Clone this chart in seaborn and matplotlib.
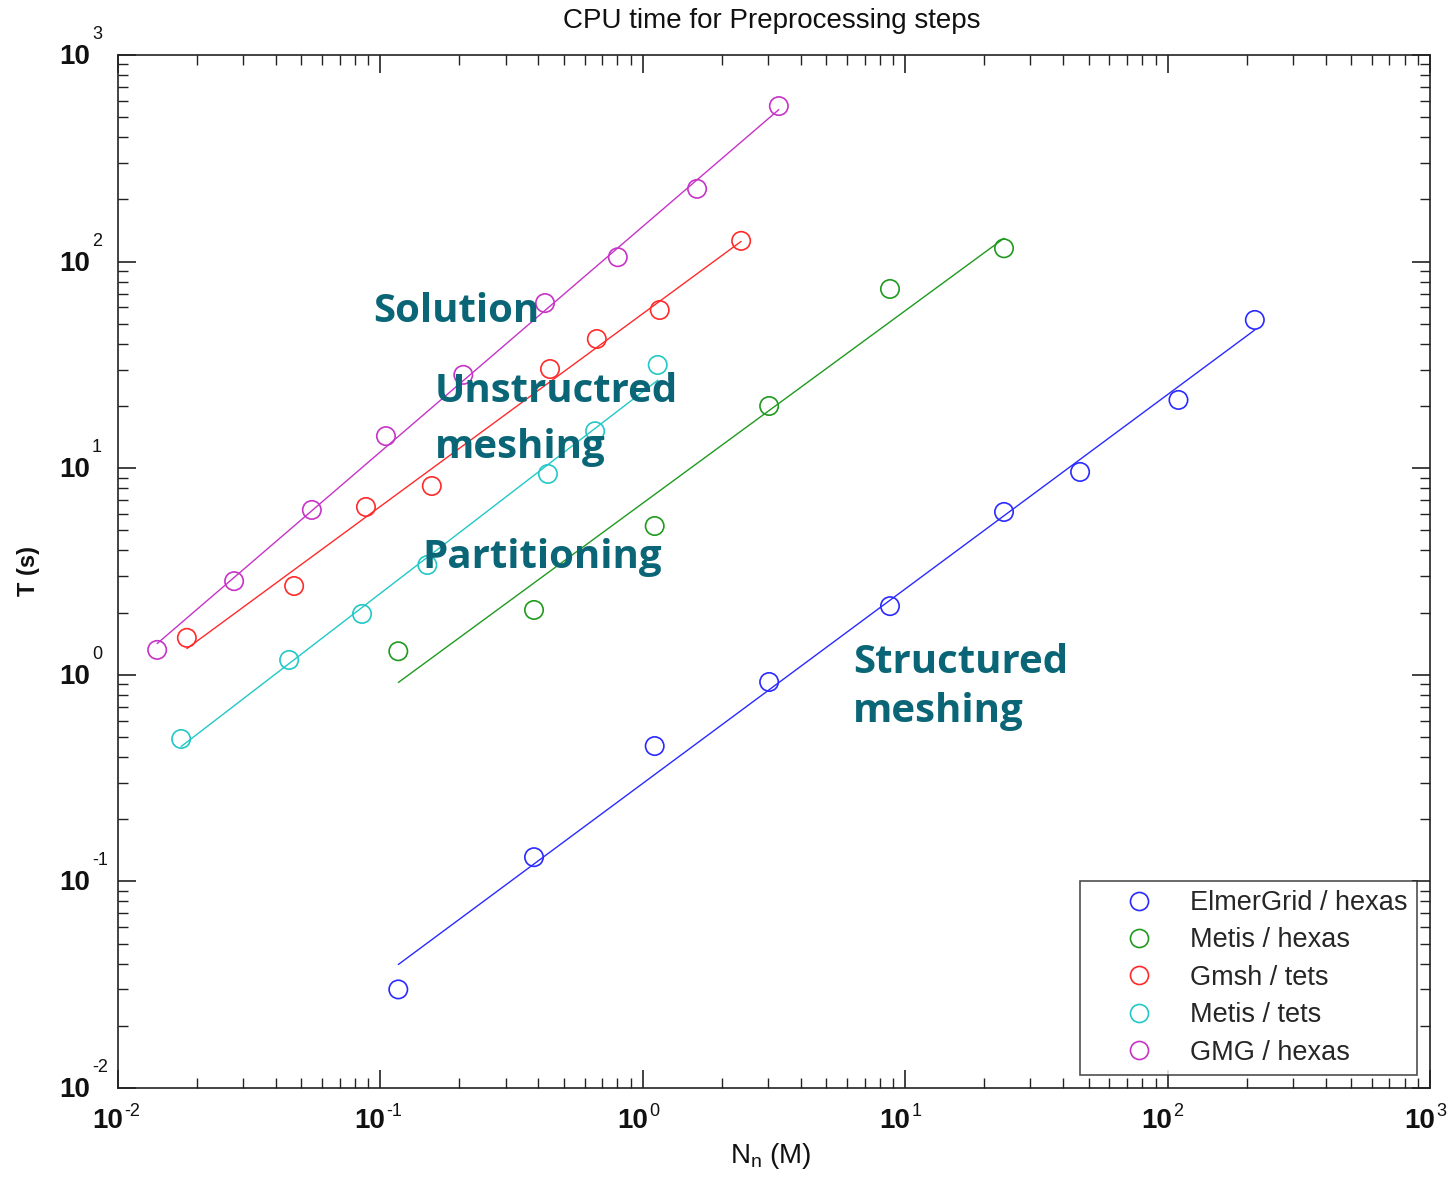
import numpy as np
import pandas as pd
import matplotlib
matplotlib.use("Agg")
import matplotlib.pyplot as plt
import seaborn as sns
from matplotlib.ticker import LogLocator, FixedLocator, NullFormatter
from matplotlib.lines import Line2D

# ---------------- data ----------------
series_names = ["ElmerGrid / hexas", "Metis / hexas", "Gmsh / tets", "Metis / tets", "GMG / hexas"]
colors = ["#2a2aff", "#1f9a1f", "#ff2a2a", "#22c8c8", "#c733c7"]

elmer_x = [0.117, 0.385, 1.11, 3.03, 8.75, 23.8, 46.4, 110, 215]
elmer_y = [0.030, 0.131, 0.452, 0.923, 2.15, 6.14, 9.59, 21.4, 52.2]

metish_x = [0.117, 0.385, 1.11, 3.03, 8.75, 23.8]
metish_y = [1.30, 2.06, 5.25, 20.0, 73.7, 116]

gmsh_x = [0.0183, 0.0469, 0.0881, 0.157, 0.443, 0.668, 1.16, 2.37]
gmsh_y = [1.51, 2.69, 6.49, 8.20, 30.2, 42.2, 58.3, 126]

metist_x = [0.0174, 0.0449, 0.0851, 0.151, 0.435, 0.658, 1.14]
metist_y = [0.489, 1.18, 1.97, 3.40, 9.38, 15.1, 31.6]

gmg_x = [0.0141, 0.0277, 0.0548, 0.105, 0.207, 0.424, 0.803, 1.61, 3.30]
gmg_y = [1.32, 2.84, 6.28, 14.3, 28.3, 63.0, 105, 225, 566]

all_x = [elmer_x, metish_x, gmsh_x, metist_x, gmg_x]
all_y = [elmer_y, metish_y, gmsh_y, metist_y, gmg_y]

annotation_lines = ["Solution", "Unstructred", "meshing", "Partitioning", "Structured", "meshing"]
tick_exponents = [-2, -1, 0, 1, 2, 3]

title = "CPU time for Preprocessing steps"
xlabel = r"N$_\mathregular{n}$ (M)"
ylabel = "T (s)"

# ---------------- layout (text anchor positions in data coords) ----------------
annotation_pos = [(0.094, 51.0), (0.161, 20.9), (0.161, 11.2),
                  (0.145, 3.29), (6.32, 1.02), (6.32, 0.591)]

# ---------------- build tables ----------------
rows = []
fit_rows = []
for name, xs, ys in zip(series_names, all_x, all_y):
    for xv, yv in zip(xs, ys):
        rows.append({"series": name, "x": xv, "y": yv})
    k, b = np.polyfit(np.log10(xs), np.log10(ys), 1)
    for xv in (min(xs), max(xs)):
        fit_rows.append({"series": name, "x": xv, "y": 10 ** (b + k * np.log10(xv))})
df = pd.DataFrame(rows)
fit = pd.DataFrame(fit_rows)

# ---------------- plot ----------------
sns.set_style("white")
plt.rcParams["font.family"] = ["Liberation Sans", "DejaVu Sans"]
plt.rcParams["mathtext.fontset"] = "custom"
plt.rcParams["mathtext.rm"] = "Liberation Sans"

fig = plt.figure(figsize=(14.52, 11.81), dpi=100)
ax = fig.add_axes([118 / 1452, 1 - 1088 / 1181, (1430 - 118) / 1452, (1088 - 55) / 1181])
ax.set_xscale("log")
ax.set_yscale("log")

palette = dict(zip(series_names, colors))
sns.lineplot(data=fit, x="x", y="y", hue="series", palette=palette, ax=ax,
             legend=False, linewidth=1.0, estimator=None, sort=False)
sns.scatterplot(data=df, x="x", y="y", hue="series", palette=palette, ax=ax,
                legend=False, marker="o", s=175, linewidth=1.2)
coll = ax.collections[-1]
coll.set_facecolor("none")
coll.set_edgecolor([palette[s] for s in df["series"]])

ax.set_xlim(1e-2, 1e3)
ax.set_ylim(1e-2, 1e3)

for s in ax.spines.values():
    s.set_color("#222222")
    s.set_linewidth(1.2)

ax.tick_params(which="both", direction="in", top=True, right=True,
               bottom=True, left=True, color="#222222")
ax.tick_params(which="major", length=13, width=1.2)
ax.tick_params(which="minor", length=7, width=1.0)
ax.xaxis.set_minor_locator(LogLocator(base=10, subs=np.arange(2, 10), numticks=20))
ax.yaxis.set_minor_locator(LogLocator(base=10, subs=np.arange(2, 10), numticks=20))
ax.xaxis.set_minor_formatter(NullFormatter())
ax.yaxis.set_minor_formatter(NullFormatter())

ax.xaxis.set_major_locator(FixedLocator([10.0 ** e for e in tick_exponents]))
ax.yaxis.set_major_locator(FixedLocator([10.0 ** e for e in tick_exponents]))
ax.set_xticklabels([])
ax.set_yticklabels([])

px = 72 / 100  # points per pixel
for e in tick_exponents:
    v = 10.0 ** e
    # x axis labels
    ax.annotate("10", xy=(v, 0), xycoords=ax.get_xaxis_transform(),
                xytext=(5 * px, -20 * px), textcoords="offset points",
                ha="right", va="top", fontsize=20, fontweight="bold", color="#111111")
    ax.annotate(f"{e}", xy=(v, 0), xycoords=ax.get_xaxis_transform(),
                xytext=(6 * px, -15 * px), textcoords="offset points",
                ha="left", va="top", fontsize=13, color="#111111")
    # y axis labels
    ax.annotate("10", xy=(0, v), xycoords=ax.get_yaxis_transform(),
                xytext=(-28 * px, -2 * px), textcoords="offset points",
                ha="right", va="center", fontsize=20, fontweight="bold", color="#111111")
    ax.annotate(f"{e}", xy=(0, v), xycoords=ax.get_yaxis_transform(),
                xytext=(-26 * px, 12 * px), textcoords="offset points",
                ha="left", va="bottom", fontsize=13, color="#111111")

ax.set_xlabel("")
ax.set_ylabel("")
fig.text(772 / 1452, 1 - 21 / 1181, title, fontsize=20, ha="center", va="center",
         color="#111111")
fig.text(28 / 1452, 1 - 571 / 1181, ylabel, rotation=90, fontsize=17, fontweight="bold",
         ha="center", va="center", color="#111111")
fig.text(771 / 1452, 1 - 1156 / 1181, xlabel, fontsize=20, ha="center", va="center",
         color="#111111")

for txt, (xv, yv) in zip(annotation_lines, annotation_pos):
    ax.text(xv, yv, txt, fontsize=29, fontweight="bold", color="#0a6676",
            family=["Open Sans", "DejaVu Sans"], ha="left", va="baseline")

handles = [Line2D([], [], linestyle="none", marker="o", markersize=13,
                  markerfacecolor="none", markeredgecolor=c, markeredgewidth=1.2)
           for c in colors]
leg = ax.legend(handles, series_names, loc="lower right", fontsize=19.5,
                frameon=True, fancybox=False, borderpad=0.35, labelspacing=0.42,
                handletextpad=0.1, borderaxespad=0.48, handlelength=3.6)
leg.get_frame().set_edgecolor("#222222")
leg.get_frame().set_linewidth(1.2)

fig.savefig("out.png", dpi=100)
